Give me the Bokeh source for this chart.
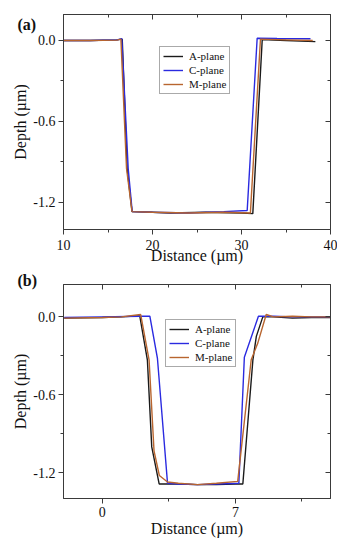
from bokeh.plotting import figure
from bokeh.layouts import column
from bokeh.models import (Range1d, FixedTicker, LinearAxis, Legend,
                          LegendItem, NumeralTickFormatter, Title)
from bokeh.embed import file_html
from bokeh.resources import INLINE

# ---------------- data ----------------
# panel (a)
a_A_x = [10, 13, 16, 16.6, 17.15, 17.7, 20, 22, 26, 30, 31.27, 32.33, 35, 38.3]
a_A_y = [0, 0, 0.005, 0.01, -0.95, -1.27, -1.275, -1.28, -1.275, -1.28, -1.285, 0.007, 0.0, -0.008]
a_C_x = [10, 13, 16, 16.55, 17.27, 17.72, 20, 24, 28, 30.64, 31.76, 34, 37.75]
a_C_y = [0, 0, 0.005, 0.013, -0.95, -1.27, -1.275, -1.28, -1.27, -1.262, 0.017, 0.015, 0.013]
a_M_x = [10, 13, 16, 16.45, 17.08, 17.7, 20, 24, 28, 31.0, 32.13, 35, 38.0]
a_M_y = [0, 0, 0.003, 0.01, -0.95, -1.27, -1.275, -1.28, -1.275, -1.28, 0.01, 0.005, 0.0]

# panel (b)
b_A_x = [-2, -1, 0, 1, 1.97, 2.37, 2.6, 2.99, 4, 5, 6, 7, 7.39, 7.92, 8.1, 8.44, 9, 10, 11, 12]
b_A_y = [-0.01, -0.008, -0.005, 0.0, 0.008, -0.33, -1.0, -1.285, -1.285, -1.29, -1.29, -1.285, -1.285,
         -0.33, -0.15, 0.0, 0.0, -0.01, -0.005, -0.005]
b_C_x = [-2, 0, 2, 2.5, 2.9, 3.43, 4, 5, 6, 7.18, 7.47, 8.21, 9, 10, 12]
b_C_y = [-0.005, 0, 0.005, 0.005, -0.32, -1.28, -1.285, -1.29, -1.285, -1.28, -0.31, 0.005, 0.005, 0.0, 0.0]
b_M_x = [-2, 0, 1, 2.02, 2.46, 2.72, 3.0, 3.43, 4, 5, 6, 7.12, 7.83, 8.18, 8.62, 9, 10, 11, 12]
b_M_y = [-0.01, -0.005, 0.0, 0.018, -0.33, -1.03, -1.22, -1.27, -1.28, -1.29, -1.28, -1.265, -0.33,
         -0.2, 0.018, 0.0, 0.005, 0.0, 0.0]

series_names = ["A-plane", "C-plane", "M-plane"]
y_ticks = [0.0, -0.6, -1.2]
y_minor = [-0.3, -0.9]
a_x_ticks = [10, 20, 30, 40]
a_x_minor = [15, 25, 35]
b_x_ticks = [0, 7]
b_x_minor = [3.5, 10.5]

COLORS = ["#1a1a1a", "#2a2ae0", "#b8652f"]
FONT = "Liberation Serif"
FRAME = "#3a3a3a"


def style_axis(ax, ticks, minor, outward, show_labels, fmt=None, standoff=5):
    ax.ticker = FixedTicker(ticks=ticks, minor_ticks=minor)
    ax.axis_line_color = FRAME
    ax.major_tick_line_color = FRAME
    ax.minor_tick_line_color = FRAME
    if outward:
        ax.major_tick_out, ax.major_tick_in = 5, 0
        ax.minor_tick_out, ax.minor_tick_in = 3, 0
    else:
        ax.major_tick_out, ax.major_tick_in = 0, 5
        ax.minor_tick_out, ax.minor_tick_in = 0, 3
    ax.major_label_text_font = FONT
    if show_labels:
        ax.major_label_text_font_size = "14px"
        ax.major_label_text_color = "#111111"
        ax.major_label_standoff = standoff
    else:
        ax.major_label_text_font_size = "1px"
        ax.major_label_text_color = None
        ax.major_label_standoff = 0
    if fmt is not None:
        ax.formatter = fmt
    ax.axis_label_text_font = FONT
    ax.axis_label_text_font_style = "normal"
    ax.axis_label_text_font_size = "16px"
    ax.axis_label_text_color = "#111111"


def make_panel(xr, yr, xt, xm, data, legend_loc, height, bt, bb, xtick_standoff, xlabel_standoff,
               tag, tag_standoff):
    p = figure(width=337, height=height, output_backend="svg", toolbar_location=None,
               x_range=Range1d(*xr), y_range=Range1d(*yr),
               min_border_left=63, min_border_right=7, min_border_top=bt, min_border_bottom=bb)
    p.grid.visible = False
    p.outline_line_color = FRAME
    p.outline_line_width = 1
    p.background_fill_color = "white"
    p.border_fill_color = "white"

    style_axis(p.xaxis[0], xt, xm, True, True, standoff=xtick_standoff)
    style_axis(p.yaxis[0], y_ticks, y_minor, True, True, NumeralTickFormatter(format="0.0"), standoff=3)
    p.xaxis[0].axis_label = "Distance (µm)"
    p.xaxis[0].axis_label_standoff = xlabel_standoff
    p.yaxis[0].axis_label = "Depth (µm)"
    p.yaxis[0].axis_label_standoff = 1

    top = LinearAxis()
    style_axis(top, xt, xm, False, False)
    p.add_layout(top, "above")
    right = LinearAxis()
    style_axis(right, y_ticks, y_minor, False, False)
    p.add_layout(right, "right")

    items = []
    for (xs, ys), name, col in zip(data, series_names, COLORS):
        r = p.line(xs, ys, line_color=col, line_width=1.4)
        items.append(LegendItem(label=name, renderers=[r]))

    lg = Legend(items=items, location=legend_loc)
    lg.label_text_font = FONT
    lg.label_text_font_size = "11px"
    lg.label_text_color = "#111111"
    lg.glyph_width = 20
    lg.glyph_height = 12
    lg.label_height = 12
    lg.label_standoff = 6
    lg.spacing = 2
    lg.padding = 3
    lg.margin = 0
    lg.border_line_color = "#555555"
    lg.border_line_width = 1
    lg.background_fill_alpha = 1
    p.add_layout(lg, "center")

    p.add_layout(Title(text=tag, align="left", offset=-46, standoff=tag_standoff,
                       text_font=FONT, text_font_size="16px", text_font_style="bold",
                       text_color="#111111"), "above")
    return p


pa = make_panel((10, 40), (-1.403, 0.193), a_x_ticks, a_x_minor,
                [(a_A_x, a_A_y), (a_C_x, a_C_y), (a_M_x, a_M_y)],
                (96, 135), 268, 14, 39, 5, -6, "(a)", -36)

pb = make_panel((-2.04, 12.0), (-1.397, 0.249), b_x_ticks, b_x_minor,
                [(b_A_x, b_A_y), (b_C_x, b_C_y), (b_M_x, b_M_y)],
                (102, 131), 274, 16, 44, 3, 0, "(b)", -8)

layout = column(pa, pb, spacing=0)
open("out.html", "w").write(file_html(layout, INLINE))
